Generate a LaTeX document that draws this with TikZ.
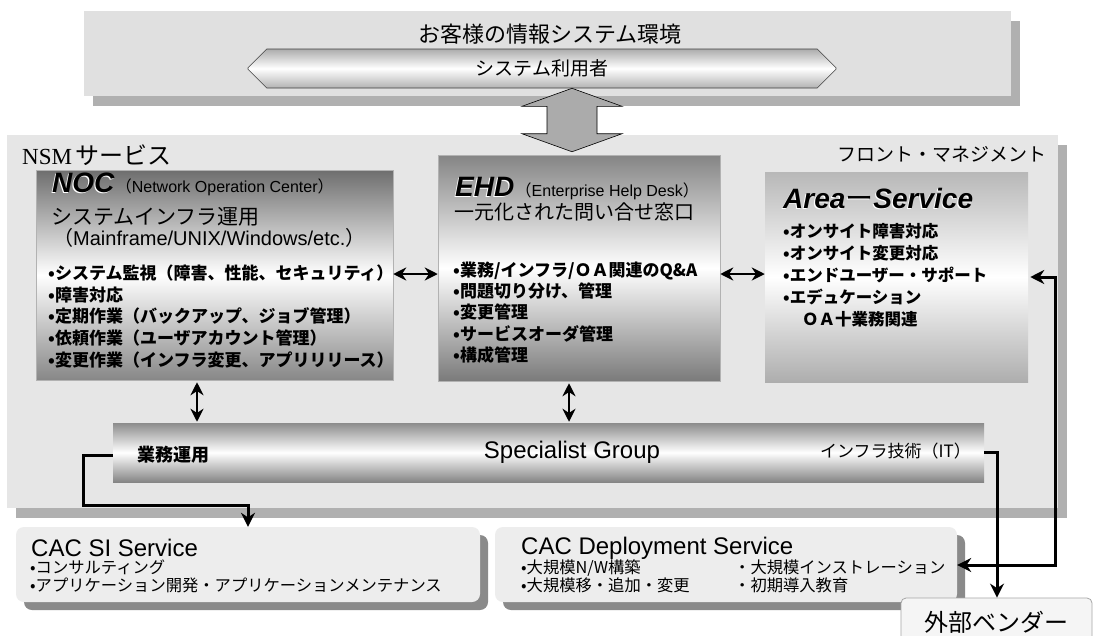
\documentclass[tikz,border=0pt]{standalone}
\usepackage{fontspec}
\setmainfont{Noto Sans CJK JP}
\newfontfamily\jp{Noto Sans CJK JP}
\newfontfamily\ar{Liberation Sans}
\newfontfamily\sr{Liberation Serif}
\usetikzlibrary{shapes.misc,arrows.meta,calc,shadows}
\definecolor{panelA}{HTML}{E0E0E0}
\definecolor{panelB}{HTML}{E6E6E6}
\definecolor{shadeA}{HTML}{B0B0B0}
\definecolor{shadeB}{HTML}{8A8A8A}
\definecolor{bigarrowc}{HTML}{ABABAB}
\definecolor{lightbox}{HTML}{EDEDED}
\newcommand\fsz[1]{\fontsize{#1}{#1}\selectfont}
\tikzset{
  panel/.style={fill=#1, draw=none, inner sep=0pt,
    drop shadow={shadow xshift=9pt, shadow yshift=-10pt, fill=shadeA, opacity=1}},
  grad/.style n args={2}{top color=#1, bottom color=#2, middle color=white, draw=gray!60, line width=0.5pt, inner sep=0pt},
  cacbox/.style={fill=lightbox, draw=none, rounded corners=8pt, inner sep=0pt,
    drop shadow={shadow xshift=8pt, shadow yshift=-8pt, fill=shadeB, opacity=1}},
  txt/.style={inner sep=0pt, anchor=west},
  listA/.style={inner sep=0pt, anchor=north west, align=left, font=\jp\bfseries\fontsize{17}{#1}\selectfont},
  listB/.style={inner sep=0pt, anchor=north west, align=left, font=\jp\fontsize{16.3}{18}\selectfont},
  conn/.style={line width=3pt, draw=black},
  dbl/.style={line width=2.6pt, draw=black, {Stealth[length=13pt,width=13pt]}-{Stealth[length=13pt,width=13pt]}},
  emb/.style={inner sep=0pt, anchor=west, font=\ar\bfseries\itshape\fsz{28}},
}
\begin{document}
\begin{tikzpicture}[x=1pt, y=-1pt]
\clip (0,0) rectangle (1093,635);
\fill[white] (0,0) rectangle (1093,635);

% panels
\node[panel=panelA, minimum width=927pt, minimum height=85pt] (top) at (547.5,53.5) {};
\node[panel=panelB, minimum width=1051pt, minimum height=373pt] (nsm) at (532.5,321.5) {};

% top texts
\node[txt, anchor=center, font=\jp\fsz{22}] (title) at (550,34) {お客様の情報システム環境};
\node[chamfered rectangle, chamfered rectangle xsep=11pt, chamfered rectangle ysep=10pt,
      top color=gray!65, bottom color=gray!60, middle color=white, draw=black!75, line width=0.6pt,
      minimum width=588pt, minimum height=39pt, inner sep=0pt, font=\jp\fsz{19}] (pill) at (542,68.5) {システム利用者};

% inner boxes
\node[grad={black!57}{black!47}, minimum width=357pt, minimum height=210pt] (noc) at (214.5,275) {};
\node[grad={black!48}{black!52}, minimum width=282pt, minimum height=226pt] (ehd) at (579,268) {};
\node[grad={black!28}{black!32}, draw=none, minimum width=263pt, minimum height=210pt] (area) at (896.5,277) {};
\node[grad={black!45}{black!48}, draw=none, minimum width=871pt, minimum height=59pt] (spec) at (548.5,452.5) {};

% big double arrow between customer and EHD
\coordinate (kx) at (572,0);
\coordinate (atop) at (pill.south -| kx);
\coordinate (abot) at ($(ehd.north -| kx)+(0,-3)$);
\draw[fill=bigarrowc, draw=black, line width=0.6pt]
  ($(atop)+(-25,18)$) -- ($(atop)+(-50,18)$) -- (atop) -- ($(atop)+(50,18)$) -- ($(atop)+(25,18)$)
  -- ($(abot)+(25,-18)$) -- ($(abot)+(50,-18)$) -- (abot) -- ($(abot)+(-50,-18)$) -- ($(abot)+(-25,-18)$) -- cycle;

% NSM labels
\node[txt] (nsmlbl) at (22,155) {{\sr\fsz{23}NSM}\kern3pt{\jp\fsz{24}サービス}};
\node[txt, anchor=east, font=\jp\fsz{19}] (front) at (1047,154) {フロント・マネジメント};

% NOC
\node[emb, text=white] at (50.8,184.2) {NOC};
\node[emb] (noct) at (52,183) {NOC};
\node[inner sep=0pt, anchor=base west] (nocfull) at ($(noct.base east)+(1,0)$) {{\jp\fsz{16}（}{\ar\fsz{16}Network Operation Center}{\jp\fsz{16}）}};
\node[txt, font=\jp\fsz{21}] (nocsub) at (51,217) {システムインフラ運用};
\node[txt] (nocsub2) at (53,238) {{\jp\fsz{20}（}{\ar\fsz{20}Mainframe/UNIX/Windows/etc.}{\jp\fsz{20}）}};
\node[listA=21.7] (noclist) at (48,264.5) {•システム監視（障害、性能、セキュリティ）\\•障害対応\\•定期作業（バックアップ、ジョブ管理）\\•依頼作業（ユーザアカウント管理）\\•変更作業（インフラ変更、アプリリリース）};

% EHD
\node[emb, text=white] at (453.8,188.2) {EHD};
\node[emb] (ehdt) at (455,187) {EHD};
\node[inner sep=0pt, anchor=base west] (ehdfull) at ($(ehdt.base east)+(1,0)$) {{\jp\fsz{16}（}{\ar\fsz{16}Enterprise Help Desk}{\jp\fsz{16}）}};
\node[txt, font=\jp\fsz{20}] (ehdsub) at (454,212) {一元化された問い合せ窓口};
\node[listA=21.25] (ehdlist) at (453,261.5) {•業務/インフラ/ＯＡ関連のQ\&A\\•問題切り分け、管理\\•変更管理\\•サービスオーダ管理\\•構成管理};

% Area
\node[emb, text=white] at (781.8,199.2) {Area{\jp\mdseries\upshape ー}Service};
\node[emb] (areat) at (783,198) {Area{\jp\mdseries\upshape ー}Service};
\node[listA=22, font=\jp\bfseries\fontsize{16.5}{22}\selectfont] (arealist) at (783,223.5) {•オンサイト障害対応\\•オンサイト変更対応\\•エンドユーザー・サポート\\•エデュケーション\\\hspace{19pt}ＯＡ十業務関連};

% Specialist group texts
\node[txt, anchor=center, font=\ar\fsz{24}] (spect) at (572,452) {Specialist Group};
\node[txt, font=\jp\bfseries\fsz{18}] (gyomu) at (137,455) {業務運用};
\node[txt, font=\jp\fsz{17}] (infra) at (820,451) {インフラ技術（IT）};

% bottom boxes
\node[cacbox, minimum width=464pt, minimum height=75pt] (cacsi) at (248,564.5) {};
\node[cacbox, minimum width=462pt, minimum height=75pt] (deploy) at (726,564.5) {};
\node[txt, font=\ar\fsz{24}] (cacsit) at (31,548) {CAC SI Service};
\node[listB] (cacsil) at (30,560) {•コンサルティング\\•アプリケーション開発・アプリケーションメンテナンス};
\node[txt, font=\ar\fsz{24}] (deployt) at (521,548) {CAC Deployment Service};
\node[listB] (deployl) at (521,560) {•大規模N/W構築\\•大規模移・追加・変更};
\node[listB] (deployr) at (734,560) {・大規模インストレーション\\・初期導入教育};

\node[overlay, fill=white!96!black, draw=gray!70, line width=0.8pt, rounded corners=5pt, minimum width=191pt, minimum height=48pt,
      inner sep=0pt, font=\jp\fsz{24}] (vendor) at (996.5,622) {外部ベンダー};

% small double arrows
\coordinate (y274) at (0,274);
\coordinate (x197) at (197,0);
\coordinate (x569) at (569,0);
\draw[dbl] (noc.east |- y274) -- (ehd.west |- y274);
\draw[dbl] (ehd.east |- y274) -- (area.west |- y274);
\draw[dbl] ($(noc.south -| x197)+(0,2)$) -- ($(spec.north -| x197)+(0,-1)$);
\draw[dbl] ($(ehd.south -| x569)+(0,2)$) -- ($(spec.north -| x569)+(0,-1)$);

% routed connectors
\coordinate (k1) at (83,455);
\coordinate (k2) at (83,505);
\coordinate (k3) at (248,505);
\draw[conn, -{Stealth[length=14pt,width=14pt]}] (spec.west |- k1) -- (k1) -- (k2) -- (k3) -- (cacsi.north -| k3);

\coordinate (v1) at (997,452);
\draw[conn, -{Stealth[length=14pt,width=14pt]}] (spec.east |- v1) -- (v1) -- (vendor.north -| v1);

\coordinate (a1) at (1055,277);
\coordinate (a2) at (1055,565);
\draw[conn, {Stealth[length=14pt,width=14pt]}-{Stealth[length=14pt,width=14pt]}] ($(area.east |- a1)+(2,0)$) -- (a1) -- (a2) -- (deploy.east |- a2);
\end{tikzpicture}
\end{document}
